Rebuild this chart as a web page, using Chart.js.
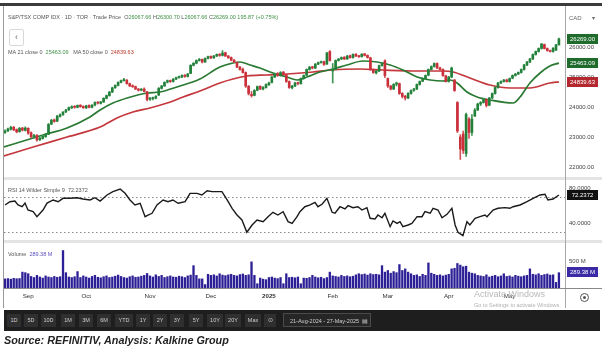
<!DOCTYPE html>
<html><head><meta charset="utf-8">
<script src="https://cdn.jsdelivr.net/npm/chart.js@4.4.1/dist/chart.umd.min.js"></script>
<style>
html,body{margin:0;padding:0;background:#fff;}
body{width:602px;height:358px;position:relative;overflow:hidden;}
canvas{position:absolute;}
.a{position:absolute;}
.t{position:absolute;white-space:nowrap;font:5.5px/8px 'Liberation Sans Narrow','Liberation Sans',Arial,sans-serif;color:#555;z-index:5;}
.g{color:#3f8f46}.r{color:#c0392b}.p{color:#5b4fc0}
.b{position:absolute;top:314px;height:13px;background:#2f2f2f;color:#cfcfcf;font:5.5px/13px 'Liberation Sans Narrow','Liberation Sans',sans-serif;text-align:center;z-index:6;}
</style></head><body>
<div class="a" style="left:0;top:3px;width:602px;height:3px;background:#3b3b3b"></div>
<canvas id="cp" width="598" height="171" style="left:4px;top:6px"></canvas>
<canvas id="cr" width="598" height="60" style="left:4px;top:180px"></canvas>
<canvas id="cv" width="598" height="65" style="left:4px;top:243px"></canvas>
<div class="a" style="left:4px;top:177px;width:598px;height:3px;background:#e4e4e4"></div>
<div class="a" style="left:4px;top:240px;width:598px;height:3px;background:#e4e4e4"></div>
<div class="a" style="left:3px;top:6px;width:1px;height:302px;background:#9a9a9a"></div>
<div class="a" style="left:565px;top:6px;width:1px;height:302px;background:#a8a8a8"></div>
<div class="a" style="left:565px;top:288px;width:37px;height:1px;background:#888"></div>

<div class="t" style="left:8px;top:13px">S&amp;P/TSX COMP IDX · 1D · TOR · Trade Price&nbsp; O<span class="g">26067.66</span> H<span class="g">26300.70</span> L<span class="g">26067.66</span> C<span class="g">26269.00</span> <span class="g">195.87 (+0.75%)</span></div>
<div class="a" style="left:9px;top:29px;width:13px;height:15px;border:1px solid #d8d8d8;border-radius:2px;font:9px/15px 'Liberation Sans',sans-serif;color:#666;text-align:center">&lsaquo;</div>
<div class="t" style="left:8px;top:48px">MA 21 close 0&nbsp; <span class="g">25463.09</span>&nbsp;&nbsp; MA 50 close 0&nbsp; <span class="r">24839.63</span></div>
<div class="t" style="left:569px;top:14px;color:#666;font-size:6px">CAD</div>
<div class="t" style="left:592px;top:14px;color:#666;font-size:6px">&#9662;</div>
<div class="t" style="left:8px;top:186px">RSI 14 Wilder Simple 9&nbsp; 72.2372</div>
<div class="t" style="left:8px;top:250px">Volume&nbsp; <span class="p">289.38 M</span></div>
<div class="a" style="left:580px;top:293px;width:7px;height:7px;border:1px solid #555;border-radius:50%"></div>
<div class="a" style="left:583px;top:296px;width:3px;height:3px;background:#555;border-radius:50%"></div>

<div class="t" style="left:474px;top:289px;font:9px/10px 'Liberation Sans',sans-serif;color:#b8b8b8">Activate Windows</div>

<div class="a" style="left:4px;top:310px;width:596px;height:21px;background:#1e1e1e"></div>
<div class="t" style="left:474px;top:302px;font:5.5px/7px 'Liberation Sans',sans-serif;color:#b0b0b0;z-index:7">Go to Settings to activate Windows.</div>
<div class="b" style="left:7px;width:14px">1D</div>
<div class="b" style="left:24px;width:14px">5D</div>
<div class="b" style="left:41px;width:15px">10D</div>
<div class="b" style="left:61px;width:14px">1M</div>
<div class="b" style="left:79px;width:14px">3M</div>
<div class="b" style="left:97px;width:14px">6M</div>
<div class="b" style="left:115px;width:18px">YTD</div>
<div class="b" style="left:136px;width:14px">1Y</div>
<div class="b" style="left:153px;width:14px">2Y</div>
<div class="b" style="left:170px;width:14px">3Y</div>
<div class="b" style="left:189px;width:14px">5Y</div>
<div class="b" style="left:207px;width:16px">10Y</div>
<div class="b" style="left:225px;width:16px">20Y</div>
<div class="b" style="left:245px;width:16px">Max</div>
<div class="b" style="left:264px;width:12px">&#8857;</div>
<div class="a" style="left:283px;top:313px;width:88px;height:14px;border:1px solid #4a4a4a;background:#262626;color:#d0d0d0;font:5.5px/14px 'Liberation Sans Narrow','Liberation Sans',sans-serif;z-index:6;padding-left:6px;box-sizing:border-box;white-space:nowrap;overflow:hidden">21-Aug-2024 - 27-May-2025 &nbsp;&#9636;</div>
<div class="a" style="left:4px;top:334px;font:italic bold 10.8px/13px 'Liberation Sans',Arial,sans-serif;color:#222;white-space:nowrap">Source: REFINITIV, Analysis: Kalkine Group</div>

<script>
const open = [
23150,23210,23260,23330,23250,23180,23300,23220,23290,23140,
23000,23060,22910,22950,23010,23090,23430,23570,23530,23690,
23750,23840,23910,23970,24020,23990,24060,24020,23970,24050,
23990,24070,24160,24120,24170,24290,24380,24500,24650,24720,
24820,24880,24900,24780,24710,24680,24600,24560,24600,24510,
24260,24280,24300,24400,24620,24700,24830,24880,24850,24930,
24980,25000,25060,25020,25120,25390,25460,25550,25590,25500,
25620,25690,25640,25700,25760,25720,25810,25700,25650,25560,
25490,25330,25260,25150,24690,24420,24390,24560,24690,24600,
24650,24740,24820,25000,25110,25050,25160,25080,24850,24640,
24700,24810,24780,24950,25060,25250,25340,25300,25430,25480,
25510,25430,25850,25200,25260,25550,25600,25660,25600,25710,
25650,25760,25700,25680,25770,25720,25640,25250,25140,25200,
25380,25540,24950,24700,24600,24760,24780,24450,24360,24300,
24450,24560,24600,24750,24860,24950,25060,25250,25350,25450,
25300,25250,25040,24850,25000,24900,24150,23000,23100,22450,
23600,23150,23700,23900,24100,24150,24250,24060,24300,24450,
24650,24800,24850,24900,24850,24960,25050,25100,25150,25250,
25400,25500,25600,25750,25850,25950,26080,25950,25880,25850,
25900,26067.66];
const high = [
23240,23300,23360,23350,23270,23320,23320,23340,23310,23170,
23090,23080,23000,23060,23110,23450,23590,23600,23720,23770,
23850,23920,24000,24040,24050,24070,24080,24040,24060,24070,
24080,24170,24180,24190,24310,24400,24520,24660,24740,24840,
24900,24960,24910,24800,24740,24700,24620,24620,24640,24520,
24320,24330,24380,24650,24720,24840,24900,24900,24950,25000,
25030,25070,25080,25120,25410,25480,25570,25620,25600,25640,
25700,25710,25720,25770,25780,25880,25830,25720,25670,25590,
25500,25360,25300,25170,24720,24520,24580,24700,24710,24680,
24770,24830,25020,25130,25150,25180,25190,25100,24870,24720,
24820,24830,24970,25070,25270,25350,25360,25450,25500,25530,
25530,25820,25880,25450,25570,25620,25670,25680,25720,25730,
25770,25780,25720,25780,25790,25740,25660,25270,25220,25400,
25480,25570,24970,24720,24780,24830,24800,24480,24390,24480,
24570,24620,24770,24870,24970,25070,25270,25370,25470,25470,
25330,25270,25060,25020,25330,24920,24180,23080,23200,23800,
23650,23750,23950,24130,24180,24280,24270,24320,24470,24670,
24820,24870,24920,24930,24970,25070,25120,25170,25270,25420,
25520,25620,25770,25870,25970,26120,26100,25970,25900,25980,
26090,26300.70];
const low = [
23120,23180,23230,23210,23140,23160,23200,23200,23090,22970,
22960,22860,22880,22930,22990,23080,23410,23490,23510,23660,
23720,23810,23880,23950,23960,23970,23990,23950,23950,23970,
23970,24040,24100,24100,24150,24270,24360,24480,24620,24700,
24800,24860,24760,24680,24650,24580,24530,24540,24500,24200,
24220,24240,24270,24380,24600,24690,24800,24820,24830,24910,
24960,24980,24990,25000,25110,25370,25440,25530,25470,25490,
25600,25610,25620,25680,25690,25700,25680,25620,25540,25480,
25310,25230,25130,24650,24400,24330,24370,24540,24580,24570,
24630,24720,24800,24980,25020,25030,25060,24820,24620,24600,
24680,24740,24760,24930,25040,25230,25270,25280,25410,25460,
25390,25420,25530,24800,25240,25530,25580,25580,25590,25630,
25630,25680,25650,25660,25700,25630,25220,25120,25100,25180,
25360,24980,24650,24570,24580,24700,24420,24300,24230,24280,
24430,24520,24580,24730,24840,24930,25040,25230,25330,25280,
25220,25020,24830,24830,24980,24520,23150,22250,22450,22350,
22950,23050,23680,23880,24050,24130,24000,24040,24280,24430,
24630,24780,24830,24830,24830,24940,25030,25080,25130,25230,
25380,25480,25580,25730,25830,25930,25930,25860,25830,25830,
25880,26067.66];
const close = [
23200,23270,23320,23240,23170,23290,23230,23300,23130,23010,
23050,22900,22960,23020,23080,23420,23560,23520,23700,23740,
23830,23900,23980,24010,23990,24050,24010,23980,24040,23990,
24060,24150,24130,24170,24290,24380,24500,24640,24720,24820,
24880,24900,24780,24700,24680,24600,24560,24590,24520,24250,
24280,24300,24350,24620,24700,24820,24880,24850,24930,24980,
25000,25050,25020,25100,25390,25460,25550,25580,25500,25620,
25680,25640,25700,25750,25720,25800,25700,25640,25560,25500,
25330,25250,25150,24700,24450,24380,24550,24680,24600,24650,
24750,24800,25000,25100,25050,25150,25080,24850,24650,24700,
24800,24780,24950,25050,25250,25330,25300,25430,25480,25500,
25420,25800,25550,25250,25550,25600,25650,25600,25700,25650,
25750,25700,25680,25760,25720,25650,25250,25150,25200,25380,
25450,25050,24700,24600,24750,24800,24450,24350,24300,24450,
24550,24600,24750,24850,24950,25050,25250,25350,25450,25300,
25250,25050,24850,25000,25300,24550,23200,22600,22550,23750,
23150,23600,23900,24100,24150,24250,24050,24300,24450,24650,
24800,24850,24900,24850,24950,25050,25100,25150,25250,25400,
25500,25600,25750,25850,25950,26100,25950,25880,25850,25960,
26073.13,26269.00];
const volume = [
175,180,170,185,178,182,300,290,270,220,
200,240,210,190,230,210,200,220,205,215,
700,290,210,200,215,310,200,230,210,190,
220,240,205,195,215,230,200,210,225,245,
220,200,190,215,230,205,210,225,240,275,
230,210,250,220,240,200,215,230,210,205,
225,215,200,230,245,420,240,175,175,70,
260,240,250,230,270,245,235,250,260,240,
230,255,265,240,250,490,240,85,190,170,
160,200,210,190,180,200,85,270,200,205,
195,210,85,190,185,200,240,210,195,205,
180,200,300,230,220,210,240,220,230,215,
225,250,270,255,265,245,270,255,260,250,
420,300,330,280,310,290,440,330,360,300,
270,240,250,220,260,240,470,280,260,240,
250,230,245,260,360,370,460,430,400,410,
300,280,270,240,230,220,250,210,225,240,
215,230,270,220,230,210,240,225,215,230,
240,360,260,250,270,240,255,265,245,250,
110,289.38];
const ma21X = [-0.4,9.7,13.1,21.4,29.3,32.8,37.2,42.1,49,53.4,59.3,67.2,74.1,78.6,81,84.5,87.9,92.4,97.2,100.7,104.1,108.6,113.1,117.9,123.4,128.3,132.8,137.2,142.1,146.6,151,153.4,155.9,159.3,162.8,167.2,175.2,177.6,181,184.5,187.9,191];
const ma21 = [22667,22967,23067,23300,23667,23900,24133,24300,24467,24500,24667,24933,25333,25467,25500,25400,25300,25133,25000,24900,25000,25167,25267,25400,25533,25500,25400,25233,25000,24900,24867,24900,24800,24500,24333,24233,24133,24333,24800,25133,25367,25463.09];
const ma50X = [-0.4,9.7,21.4,32.8,38.6,44.1,50,55.9,61.4,67.2,74.1,78.6,83.4,90.3,97.2,106.2,112.1,122.4,130.3,142.1,151,154.5,160.3,167.2,174.1,181,187.9,191];
const ma50 = [22367,22667,23000,23333,23633,23833,23967,24133,24333,24533,24800,24933,25033,25067,25100,25167,25233,25267,25233,25200,25200,25167,24967,24733,24633,24633,24800,24839.63];
const rsiX = [0,1.7,3.4,4.5,5.9,6.9,7.9,9.7,11,12.1,13.1,14.5,16.6,18.3,20,22.4,24.8,26.9,29.3,31,32.8,35.2,37.2,39.7,41.4,43.1,44.8,46.6,48.3,49.3,50.7,52.4,54.5,56.2,57.9,59.7,62.1,63.8,66.2,67.9,69.7,71.4,73.1,74.8,76.6,78.3,80,81.7,83.4,85.2,86.9,89,90.7,92.4,94.1,95.9,97.6,99,100.7,101.7,103.4,105.2,106.9,107.9,109.3,111,112.8,113.8,115.5,117.2,118.3,120,121.7,123.1,124.8,125.9,127.6,128.6,130,131,132.8,133.8,135.2,136.2,137.2,139,140.3,142.1,143.8,144.8,146.6,147.6,149.3,150.7,152.4,154.1,155.2,156.2,157.9,159.3,160.3,162.1,163.8,165.5,166.2,168.3,170,172.4,174.1,175.2,177.6,180,182.1,184.5,186.2,187.2,189,191];
const rsi = [60.9,64.6,65.4,60.9,58.9,63.1,55.1,53.2,47.5,51.4,55.1,63.1,66.6,64.6,68.5,68.5,69.2,67.7,66.6,69.2,65.4,72.3,76.1,79.1,74.2,66.6,60.9,62.8,47.5,49.4,51.4,60.9,66.6,64.6,66.6,62.8,64.6,74.2,74.2,72.3,77.2,76.1,76.1,76.1,66.6,57.1,49.4,43.7,29.7,38,43.7,41.8,47.5,52.5,49.4,53.2,41.8,39.9,47.5,53.2,58.9,60.9,63.9,58.9,61.7,68.5,52.5,51.4,58.9,56.3,60.1,57.8,58.9,55.1,57.8,45.7,44.9,49.4,46.3,51.4,36.1,42.6,39.9,41.8,36.1,38,39.9,47.5,47.5,53.2,51.4,57.1,55.1,46.3,50.2,57.1,38,29.7,25.8,41.8,38,45.7,47.5,49.4,47.5,55.1,57.1,57.8,57.1,58.9,60.9,64.6,68.5,72.3,73.1,66.6,67.7,72.2372];
const monthIdx = [8,28,50,71,91,113,132,153,174];
const monthLabels = ['Sep','Oct','Nov','Dec','2025','Feb','Mar','Apr','May'];
const priceTicks = [22000,23000,24000,25000,26000];
const rsiTicks = [40,80];
const rsiLevels = [70,30];
const volTicks = [500];

const FAM = "'Liberation Sans Narrow','Liberation Sans',sans-serif";
const tickFont = {family:FAM, size:6};
const UP='#22803a', DN='#c9303a', WUP='#3f9452', WDN='#d4545c';
const idx = close.map((_,i)=>i);
const up = idx.map(i=>close[i]>=open[i]);

function xScale(){ return {type:'linear', min:-0.35, max:193.1, display:false, offset:false, grid:{offset:false}}; }
function yFit(s){ s.width=37; s.paddingTop=0; s.paddingBottom=0; }
function box(ctx, y, bg, txt){
  const yy=Math.round(y);
  ctx.save();
  ctx.fillStyle=bg; ctx.fillRect(563, yy-5, 31, 10);
  ctx.fillStyle='#fff'; ctx.font='6px '+FAM; ctx.textAlign='center'; ctx.textBaseline='middle';
  ctx.fillText(txt, 578.5, yy+0.5);
  ctx.restore();
}
const base = {responsive:false, animation:false, devicePixelRatio:1, events:[],
  layout:{padding:0}, plugins:{legend:{display:false}, tooltip:{enabled:false}}};

new Chart(document.getElementById('cp'), {
  type:'bar',
  data:{datasets:[
    {type:'line', data:ma50X.map((x,i)=>({x, y:ma50[i]})), borderColor:'#c4373c', borderWidth:1.7, pointRadius:0, cubicInterpolationMode:'monotone', order:5},
    {type:'line', data:ma21X.map((x,i)=>({x, y:ma21[i]})), borderColor:'#2b7a33', borderWidth:1.7, pointRadius:0, cubicInterpolationMode:'monotone', order:4},
    {type:'bar', data:idx.map(i=>({x:i, y:[low[i],high[i]]})), backgroundColor:idx.map(i=>up[i]?WUP:WDN), barThickness:1, grouped:false, order:1},
    {type:'bar', data:idx.map(i=>({x:i, y:[open[i],close[i]]})), backgroundColor:idx.map(i=>up[i]?UP:DN), barThickness:2, minBarLength:1, grouped:false, order:0}
  ]},
  options:Object.assign({}, base, {
    scales:{
      x:xScale(),
      y:{position:'right', min:21667, max:27367, grid:{display:false, drawTicks:false}, border:{display:false},
         afterFit:yFit, afterBuildTicks:s=>{s.ticks=priceTicks.map(v=>({value:v}));},
         ticks:{font:tickFont, color:'#444', padding:4, callback:v=>Number(v).toFixed(2)}}
    }
  }),
  plugins:[{id:'pbox', afterDraw(c){
    const y=c.scales.y, ctx=c.ctx;
    box(ctx, y.getPixelForValue(close[close.length-1]), '#1e6b2c', close[close.length-1].toFixed(2));
    box(ctx, y.getPixelForValue(ma21[ma21.length-1]), '#1e6b2c', ma21[ma21.length-1].toFixed(2));
    box(ctx, y.getPixelForValue(ma50[ma50.length-1]), '#b3282e', ma50[ma50.length-1].toFixed(2));
  }}]
});

new Chart(document.getElementById('cr'), {
  type:'line',
  data:{datasets:[
    {data:rsiX.map((x,i)=>({x, y:rsi[i]})), borderColor:'#1a1a1a', borderWidth:1.4, pointRadius:0, tension:0}
  ]},
  options:Object.assign({}, base, {
    scales:{
      x:xScale(),
      y:{position:'right', min:20.86, max:89.43, grid:{display:false, drawTicks:false}, border:{display:false},
         afterFit:yFit, afterBuildTicks:s=>{s.ticks=rsiTicks.map(v=>({value:v}));},
         ticks:{font:tickFont, color:'#444', padding:4, callback:v=>Number(v).toFixed(4)}}
    }
  }),
  plugins:[{id:'rlev', beforeDatasetsDraw(c){
    const ctx=c.ctx, y=c.scales.y, a=c.chartArea;
    ctx.save(); ctx.strokeStyle='#8a8a8a'; ctx.lineWidth=1; ctx.setLineDash([1.5,2.5]);
    rsiLevels.forEach(l=>{ const py=Math.round(y.getPixelForValue(l))+0.5; ctx.beginPath(); ctx.moveTo(a.left,py); ctx.lineTo(a.right,py); ctx.stroke(); });
    ctx.restore();
  }, afterDraw(c){
    box(c.ctx, c.scales.y.getPixelForValue(rsi[rsi.length-1]), '#111', rsi[rsi.length-1].toFixed(4));
  }}]
});

new Chart(document.getElementById('cv'), {
  type:'bar',
  data:{datasets:[
    {data:idx.map(i=>({x:i, y:volume[i]})), backgroundColor:'#2d2097', barPercentage:0.8, categoryPercentage:1}
  ]},
  options:Object.assign({}, base, {
    scales:{
      x:{type:'linear', min:-0.35, max:193.1, position:'bottom', offset:false,
         grid:{display:false, drawTicks:false, offset:false}, border:{display:true, color:'#8a8a8a', width:1},
         afterFit:s=>{s.height=20; s.paddingLeft=0; s.paddingRight=0;},
         afterBuildTicks:s=>{s.ticks=monthIdx.map(v=>({value:v}));},
         ticks:{autoSkip:false, maxRotation:0, padding:5, color:'#333',
           font:ctx=>({family:FAM, size:6.2, weight:(monthLabels[ctx.index]==='2025')?'bold':'normal'}),
           callback:v=>{const k=monthIdx.indexOf(v); return k>=0?monthLabels[k]:'';}}},
      y:{position:'right', min:0, max:833, grid:{display:false, drawTicks:false}, border:{display:false},
         afterFit:yFit, afterBuildTicks:s=>{s.ticks=volTicks.map(v=>({value:v}));},
         ticks:{font:tickFont, color:'#444', padding:4, callback:v=>v+' M'}}
    }
  }),
  plugins:[{id:'vbox', afterDraw(c){
    box(c.ctx, c.scales.y.getPixelForValue(volume[volume.length-1]), '#3a2aa5', volume[volume.length-1].toFixed(2)+' M');
  }}]
});
</script>
</body></html>
